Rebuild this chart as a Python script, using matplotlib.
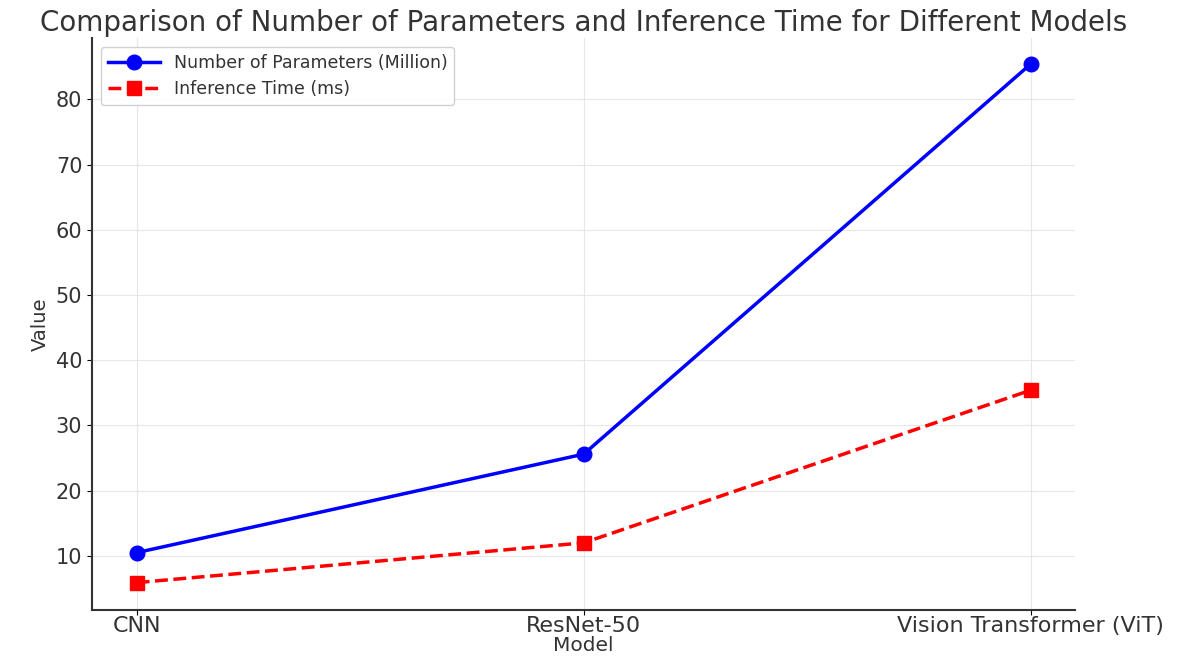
import numpy as np
import matplotlib
matplotlib.use('Agg')
from matplotlib import pyplot as plt

# valores
models = ['CNN', 'ResNet-50', 'Vision Transformer (ViT)']
params_million = [10.5, 25.6, 85.4]
inference_ms = [5.9, 12.0, 35.4]

fig = plt.figure(figsize=(11.89, 6.57), dpi=100)
ax = fig.add_axes([0.0774, 0.0715, 0.827, 0.8707])

x = np.arange(len(models))
ax.plot(x, params_million, color='blue', marker='o', linestyle='-', linewidth=2.5,
        markersize=10.5, label='Number of Parameters (Million)')
ax.plot(x, inference_ms, color='red', marker='s', linestyle='--', linewidth=2.5,
        markersize=10, label='Inference Time (ms)')

ax.set_ylim(1.7, 89.4)
ax.set_xticks(x)
ax.set_xticklabels(models, fontsize=16, color='#333333')
ax.tick_params(axis='x', pad=0.5)
ax.tick_params(axis='y', labelsize=15, labelcolor='#333333')
ax.set_xlabel('Model', fontsize=14.5, color='#333333')
ax.xaxis.set_label_coords(0.5, -0.046)
ax.set_ylabel('Value', fontsize=14, color='#333333')
ax.set_title('Comparison of Number of Parameters and Inference Time for Different Models',
             fontsize=20, color='#333333', pad=5)

ax.grid(True, color='#dddddd', linewidth=0.8, alpha=0.7)
ax.spines['top'].set_visible(False)
ax.spines['right'].set_visible(False)
ax.spines['left'].set_color('#333333')
ax.spines['bottom'].set_color('#333333')
ax.spines['left'].set_linewidth(1.5)
ax.spines['bottom'].set_linewidth(1.5)

ax.legend(loc='upper left', fontsize=12.5, labelcolor='#333333', framealpha=0.9,
          handlelength=3)

fig.savefig('out.png', dpi=100)
